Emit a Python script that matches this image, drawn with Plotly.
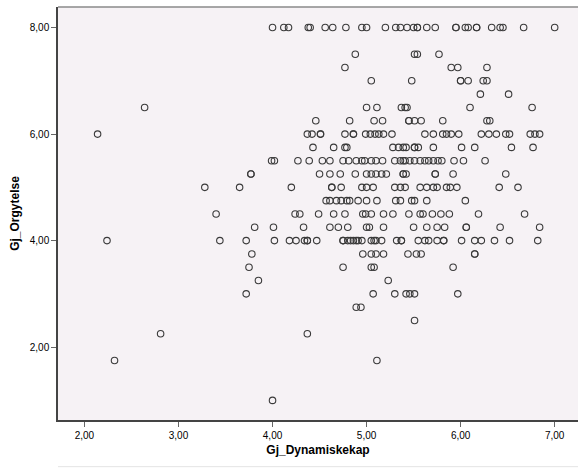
import plotly.graph_objects as go

# Gj_Dynamiskekap values for each Gj_Orgytelse level
row_8_00 = [4.00, 4.12, 4.17, 4.38, 4.40, 4.56, 4.64, 4.78, 4.95, 5.00, 5.20, 5.31, 5.36, 5.43,
            5.50, 5.54, 5.54, 5.64, 5.73, 5.95, 5.95, 6.05, 6.08, 6.17, 6.17, 6.33, 6.42, 6.45,
            6.67, 7.00]
row_7_50 = [4.88, 5.51, 5.54, 5.77]
row_7_25 = [4.77, 5.90, 5.97, 6.28]
row_7_00 = [5.05, 5.48, 6.00, 6.00, 6.08, 6.24, 6.28]
row_6_75 = [6.21, 6.51]
row_6_50 = [2.64, 5.00, 5.11, 5.37, 5.41, 5.43, 6.10, 6.76]
row_6_25 = [4.46, 4.82, 5.08, 5.17, 5.45, 5.45, 5.51, 5.58, 5.81, 6.28, 6.31]
row_6_00 = [2.14, 4.37, 4.42, 4.51, 4.51, 4.77, 4.86, 4.86, 4.99, 5.04, 5.09, 5.13, 5.18, 5.27,
            5.62, 5.71, 5.81, 5.85, 5.90, 5.98, 6.22, 6.30, 6.38, 6.48, 6.52, 6.74, 6.79, 6.84]
row_5_75 = [4.43, 4.65, 4.77, 4.79, 5.28, 5.34, 5.39, 5.42, 5.51, 5.51, 5.55, 5.71, 6.01, 6.15,
            6.54, 6.77]
row_5_50 = [3.99, 4.02, 4.27, 4.39, 4.53, 4.61, 4.75, 4.81, 4.89, 4.95, 4.98, 5.05, 5.10, 5.17,
            5.30, 5.36, 5.39, 5.41, 5.46, 5.51, 5.57, 5.62, 5.66, 5.71, 5.76, 5.80, 5.93, 6.03,
            6.26]
row_5_25 = [3.77, 3.77, 4.50, 4.61, 4.72, 4.88, 5.00, 5.05, 5.10, 5.16, 5.21, 5.39, 5.39, 5.42,
            5.73, 5.73, 5.92, 6.48]
row_5_00 = [3.28, 3.65, 4.20, 4.63, 4.63, 4.73, 4.95, 5.00, 5.07, 5.30, 5.36, 5.41, 5.57, 5.64,
            5.71, 5.75, 5.85, 5.89, 5.96, 6.41, 6.61]
row_4_75 = [4.57, 4.61, 4.68, 4.73, 4.79, 4.82, 4.91, 5.00, 5.11, 5.31, 5.36, 5.48, 5.51, 5.64,
            6.05]
row_4_50 = [3.40, 4.24, 4.29, 4.49, 4.65, 4.77, 4.96, 4.99, 5.05, 5.18, 5.28, 5.45, 5.57, 5.60,
            5.70, 5.79, 5.88, 6.19, 6.68]
row_4_25 = [3.81, 4.01, 4.33, 4.61, 4.70, 4.80, 5.00, 5.03, 5.18, 5.50, 5.64, 5.75, 5.83, 6.06,
            6.06, 6.42, 6.84]
row_4_00 = [2.24, 3.44, 3.72, 4.02, 4.18, 4.25, 4.34, 4.37, 4.37, 4.47, 4.75, 4.75, 4.80, 4.83,
            4.86, 4.89, 4.91, 4.95, 5.05, 5.08, 5.10, 5.16, 5.32, 5.37, 5.37, 5.55, 5.62, 5.66,
            5.75, 5.82, 5.82, 6.01, 6.15, 6.22, 6.36, 6.52, 6.82]
row_3_75 = [3.78, 4.96, 5.05, 5.10, 5.18, 5.44, 5.53, 5.58, 6.15, 6.15]
row_3_50 = [3.75, 4.75, 5.05, 5.08, 5.92]
row_3_25 = [3.85, 5.23]
row_3_00 = [3.72, 5.07, 5.30, 5.42, 5.46, 5.51, 5.97]
row_2_75 = [4.89, 4.94]
row_2_50 = [5.51]
row_2_25 = [2.81, 4.37]
row_1_75 = [2.32, 5.11]
row_1_00 = [4.00]

rows = [
    (8.00, row_8_00), (7.50, row_7_50), (7.25, row_7_25), (7.00, row_7_00),
    (6.75, row_6_75), (6.50, row_6_50), (6.25, row_6_25), (6.00, row_6_00),
    (5.75, row_5_75), (5.50, row_5_50), (5.25, row_5_25), (5.00, row_5_00),
    (4.75, row_4_75), (4.50, row_4_50), (4.25, row_4_25), (4.00, row_4_00),
    (3.75, row_3_75), (3.50, row_3_50), (3.25, row_3_25), (3.00, row_3_00),
    (2.75, row_2_75), (2.50, row_2_50), (2.25, row_2_25), (1.75, row_1_75),
    (1.00, row_1_00),
]

x_ticks = [2, 3, 4, 5, 6, 7]
x_tick_labels = ["2,00", "3,00", "4,00", "5,00", "6,00", "7,00"]
y_ticks = [2, 4, 6, 8]
y_tick_labels = ["2,00", "4,00", "6,00", "8,00"]

xs, ys = [], []
for yv, xl in rows:
    for xv in xl:
        xs.append(xv)
        ys.append(yv)

fig = go.Figure()
fig.add_trace(go.Scatter(
    x=xs, y=ys, mode="markers",
    marker=dict(symbol="circle-open", size=6.5, color="#3a3a3a", line=dict(width=1.1, color="#3a3a3a")),
    showlegend=False, hoverinfo="skip",
))

font = "Liberation Sans, Arial, sans-serif"
fig.update_layout(
    width=578, height=468,
    margin=dict(l=58, r=0, t=7, b=48),
    paper_bgcolor="white",
    plot_bgcolor="#F6F2F5",
    font=dict(family=font, size=10, color="black"),
    xaxis=dict(
        range=[1.719, 7.248], tickvals=x_ticks, ticktext=x_tick_labels,
        showgrid=False, zeroline=False, showline=True, linecolor="#444444", linewidth=1.5,
        ticks="outside", ticklen=5, tickcolor="#666666", tickwidth=1,
        tickfont=dict(size=10, family=font),
        title=dict(text="<b>Gj_Dynamiskekap</b>", font=dict(size=12, family=font), standoff=6),
        automargin=False,
    ),
    yaxis=dict(
        range=[0.632, 8.386], tickvals=y_ticks, ticktext=y_tick_labels,
        showgrid=False, zeroline=False, showline=True, linecolor="#444444", linewidth=1.5,
        ticks="outside", ticklen=5, tickcolor="#666666", tickwidth=1,
        tickfont=dict(size=10, family=font),
        title=dict(text="<b>Gj_Orgytelse</b>", font=dict(size=12, family=font), standoff=8),
        automargin=False,
    ),
    shapes=[
        dict(type="line", xref="paper", yref="paper", x0=0, x1=1, y0=1, y1=1,
             line=dict(color="#8a8a8a", width=1.5)),
        dict(type="line", xref="paper", yref="paper", x0=0, x1=1, y0=-0.113, y1=-0.113,
             line=dict(color="#e4e4e4", width=1)),
    ],
)

fig.write_html("out.html")
